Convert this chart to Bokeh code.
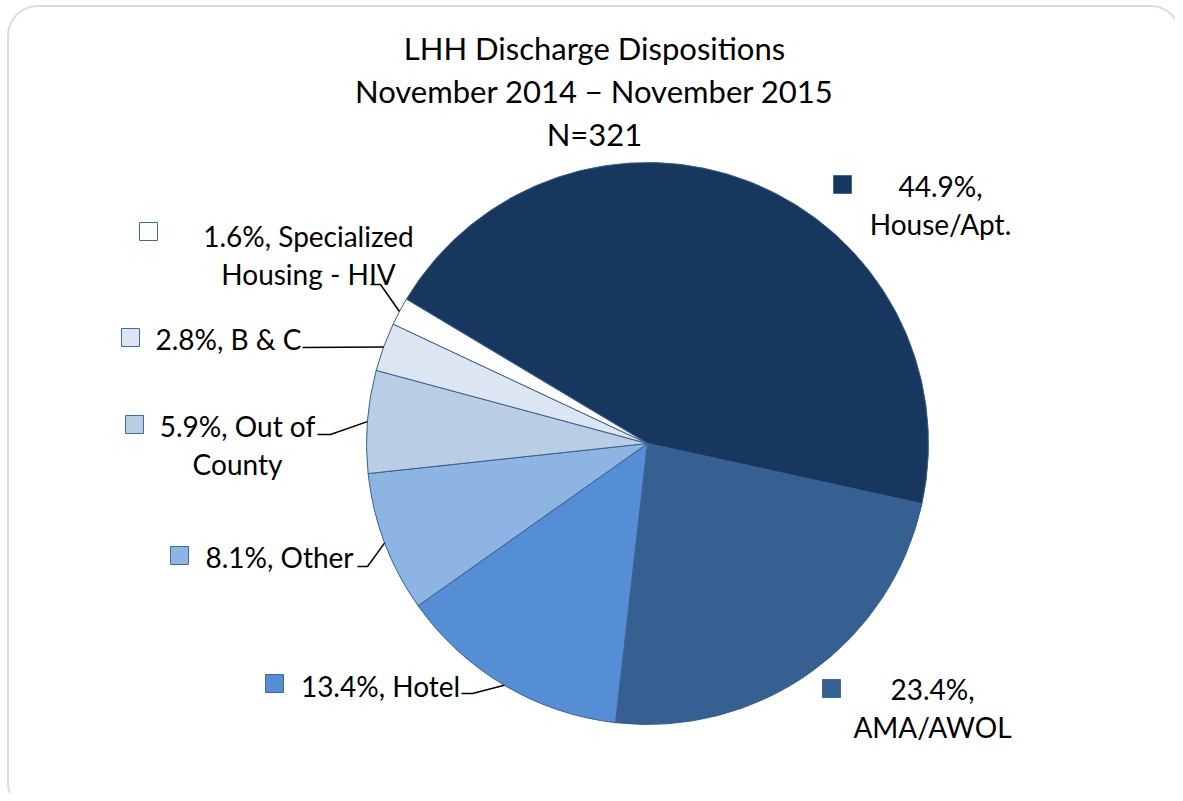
import math
from bokeh.plotting import figure
from bokeh.models import Range1d, BoxAnnotation
from bokeh.embed import file_html
from bokeh.resources import INLINE
from bokeh.core.properties import value

# ---------------- data ----------------
title_lines = ["LHH Discharge Dispositions", "November 2014 \u2212 November 2015", "N=321"]
categories = ["House/Apt.", "AMA/AWOL", "Hotel", "Other", "Out of County", "B & C",
              "Specialized Housing - HIV"]
percents = [44.9, 23.4, 13.4, 8.1, 5.9, 2.8, 1.6]

# ---------------- style / layout ----------------
colors = ["#17375E", "#366092", "#558ED5", "#8EB4E3", "#B9CDE5", "#DCE6F2", "#FFFFFF"]
FONT = "Lato"
FS = "28px"
TFS = "31px"
W, H = 1175, 793


def Y(y):  # picture-pixel y -> data y
    return H - y


cx, cy, R = 647, 443, 281
start_deg = 149.1
# label layout: (center x, first line center y), words before line break, legend square center
label_pos = [(940, 185), (932, 688), (380, 685), (279, 556), (237, 425), (228, 338), (308, 235)]
break_after = [1, 1, None, None, 3, None, 2]
square_pos = [(842, 184), (831, 688), (274, 683), (179, 555), (134, 424), (130, 337), (148, 231)]
LINE_GAP = 38
# leader lines: label-side points (picture px); end point is on the slice rim
leaders = {2: [(461, 693), (472, 693)], 3: [(357, 566), (367, 566)],
           4: [(317, 434), (330, 434)], 5: [(302, 347)], 6: [(370, 284), (380, 284)]}

p = figure(width=W, height=H, output_backend="svg", toolbar_location=None,
           x_range=Range1d(0, W), y_range=Range1d(0, H),
           min_border=0, outline_line_color=None)
p.axis.visible = False
p.grid.visible = False
p.background_fill_color = "white"
p.border_fill_color = "white"

# rounded frame
p.add_layout(BoxAnnotation(left=7.5, right=1180, top=Y(5.5), bottom=Y(812),
                           border_radius=30, fill_alpha=0, line_color="#8A8A8A",
                           line_width=2))

# pie
total = sum(percents)
cum = 0.0
mids = []
for pct, col in zip(percents, colors):
    a0 = start_deg - cum / total * 360
    cum += pct
    a1 = start_deg - cum / total * 360
    mids.append((a0 + a1) / 2)
    p.wedge(x=cx, y=Y(cy), radius=R, start_angle=math.radians(a1), end_angle=math.radians(a0),
            fill_color=col, line_color="#3A5F8F", line_width=1)

# title
for i, t in enumerate(title_lines):
    p.text(x=[594], y=[Y(47 + i * 43)], text=[t], text_font=value(FONT), text_font_size=TFS,
           text_align="center", text_baseline="middle", text_color="black")

# labels
for i, (cat, pct) in enumerate(zip(categories, percents)):
    words = f"{pct}%, {cat}".split(" ")
    if break_after[i]:
        lines = [" ".join(words[:break_after[i]]), " ".join(words[break_after[i]:])]
    else:
        lines = [" ".join(words)]
    lx, ly = label_pos[i]
    for j, ln in enumerate(lines):
        p.text(x=[lx], y=[Y(ly + j * LINE_GAP)], text=[ln], text_font=value(FONT),
               text_font_size=FS, text_align="center", text_baseline="middle",
               text_color="black")
    sx, sy = square_pos[i]
    p.scatter(x=[sx], y=[Y(sy)], marker="square", size=18, fill_color=colors[i],
              line_color="#3E6A9E", line_width=1)
    if i in leaders:
        a = math.radians(mids[i])
        pts = leaders[i] + [(cx + R * math.cos(a), cy - R * math.sin(a))]
        p.line(x=[q[0] for q in pts], y=[Y(q[1]) for q in pts], line_color="black",
               line_width=1.5)

open("out.html", "w").write(file_html(p, INLINE))
